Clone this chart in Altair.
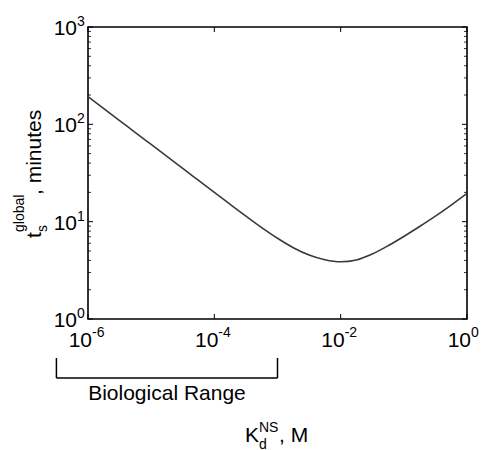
import altair as alt
import pandas as pd

# ---- data ----
kd_exponent = [-6.0, -5.75, -5.5, -5.25, -5.0, -4.75, -4.5, -4.25, -4.0, -3.75, -3.5,
               -3.25, -3.0, -2.75, -2.5, -2.25, -2.0, -1.75, -1.5, -1.25, -1.0,
               -0.75, -0.5, -0.25, 0.0]
t_minutes = [192.8, 145.2, 109.4, 82.4, 62.1, 46.8, 35.2, 26.5, 19.95, 15.07, 11.40,
             8.69, 6.75, 5.40, 4.54, 4.06, 3.87, 4.04, 4.65, 5.65, 7.05,
             8.91, 11.38, 14.79, 19.50]

x_tick_exp = [-6, -4, -2, 0]
y_tick_exp = [0, 1, 2, 3]
y_minor = [m * 10 ** d for d in range(0, 3) for m in range(2, 10)]

bio_range_exp = [-6.5, -3.0]   # bracket ends (log10 M)
bio_label = "Biological Range"

W, H = 379, 292
FONT = "Liberation Sans"
BIG, SMALL = 21, 14

curve = pd.DataFrame({"K": [10 ** e for e in kd_exponent], "t": t_minutes})
xticks = pd.DataFrame({"K": [10.0 ** e for e in x_tick_exp],
                       "exp": [str(e) for e in x_tick_exp]})
yticks = pd.DataFrame({"t": [10.0 ** e for e in y_tick_exp],
                       "exp": [str(e) for e in y_tick_exp]})
yminor = pd.DataFrame({"t": y_minor})
bracket = pd.DataFrame({"K": [10 ** bio_range_exp[0]], "K2": [10 ** bio_range_exp[1]]})
bracket_ends = pd.DataFrame({"K": [10 ** e for e in bio_range_exp]})
bio_text = pd.DataFrame({"K": [10 ** ((bio_range_exp[0] + bio_range_exp[1]) / 2)],
                         "label": [bio_label]})
one = pd.DataFrame({"a": [0]})

xs = alt.Scale(type="log", domain=[1e-6, 1], nice=False)
ys = alt.Scale(type="log", domain=[1, 1000], nice=False)

base_x = alt.X("K:Q", scale=xs, axis=None)
base_y = alt.Y("t:Q", scale=ys, axis=None)

line = alt.Chart(curve).mark_line(color="#3a3a3a", strokeWidth=1.6,
                                  interpolate="monotone").encode(x=base_x, y=base_y)

# inward ticks
ytick_l = alt.Chart(yticks).mark_rule(color="black", strokeWidth=1).encode(
    y=base_y, x=alt.value(0), x2=alt.value(5))
ytick_r = alt.Chart(yticks).mark_rule(color="black", strokeWidth=1).encode(
    y=base_y, x=alt.value(W - 5), x2=alt.value(W))
yminor_l = alt.Chart(yminor).mark_rule(color="black", strokeWidth=0.8).encode(
    y=base_y, x=alt.value(0), x2=alt.value(3))
yminor_r = alt.Chart(yminor).mark_rule(color="black", strokeWidth=0.8).encode(
    y=base_y, x=alt.value(W - 3), x2=alt.value(W))
xtick_b = alt.Chart(xticks).mark_rule(color="black", strokeWidth=1).encode(
    x=base_x, y=alt.value(H - 5), y2=alt.value(H))
xtick_t = alt.Chart(xticks).mark_rule(color="black", strokeWidth=1).encode(
    x=base_x, y=alt.value(0), y2=alt.value(5))

# tick labels "10" + superscript exponent
xlab10 = alt.Chart(xticks).mark_text(text="10", font=FONT, fontSize=BIG, align="right",
                                     baseline="alphabetic", dx=4, color="black").encode(
    x=base_x, y=alt.value(H + 28))
xlabexp = alt.Chart(xticks).mark_text(font=FONT, fontSize=SMALL, align="left",
                                      baseline="alphabetic", dx=4, color="black").encode(
    x=base_x, y=alt.value(H + 18), text="exp:N")
ylab10 = alt.Chart(yticks).mark_text(text="10", font=FONT, fontSize=BIG, align="right",
                                     baseline="alphabetic", dx=-11, dy=8, color="black").encode(
    y=base_y, x=alt.value(0))
ylabexp = alt.Chart(yticks).mark_text(font=FONT, fontSize=SMALL, align="left",
                                      baseline="alphabetic", dx=-11, dy=-1, color="black").encode(
    y=base_y, x=alt.value(0), text="exp:N")

# biological range bracket
br_h = alt.Chart(bracket).mark_rule(color="black", strokeWidth=1.5).encode(
    x=base_x, x2="K2:Q", y=alt.value(351))
br_v = alt.Chart(bracket_ends).mark_rule(color="black", strokeWidth=1.5).encode(
    x=base_x, y=alt.value(331), y2=alt.value(351))
br_t = alt.Chart(bio_text).mark_text(font=FONT, fontSize=BIG, align="center",
                                     baseline="alphabetic", color="black").encode(
    x=base_x, y=alt.value(373), text="label:N")

# axis titles with sub/superscripts
def txt(s, x, y, size, angle=0):
    return alt.Chart(one).mark_text(text=s, font=FONT, fontSize=size, align="left",
                                    baseline="alphabetic", angle=angle, color="black").encode(
        x=alt.value(x), y=alt.value(y))

ytitle = [
    txt("t", -47, 211, BIG, 270),
    txt("global", -64, 205, SMALL, 270),
    txt("s", -41, 205, SMALL, 270),
    txt(", minutes", -47, 168, BIG, 270),
]
xtitle = [
    txt("K", 157, 415, BIG),
    txt("NS", 171, 405, SMALL),
    txt("d", 171, 422, SMALL),
    txt(", M", 191, 415, BIG),
]

chart = alt.layer(
    line, ytick_l, ytick_r, yminor_l, yminor_r, xtick_b, xtick_t,
    xlab10, xlabexp, ylab10, ylabexp, br_h, br_v, br_t, *ytitle, *xtitle
).properties(
    width=W, height=H, autosize="none",
    padding={"left": 80, "top": 19, "right": 12, "bottom": 131},
).configure_view(stroke="black", strokeWidth=1.6)

chart.save("out.html", embed_options={"renderer": "svg", "actions": False})
